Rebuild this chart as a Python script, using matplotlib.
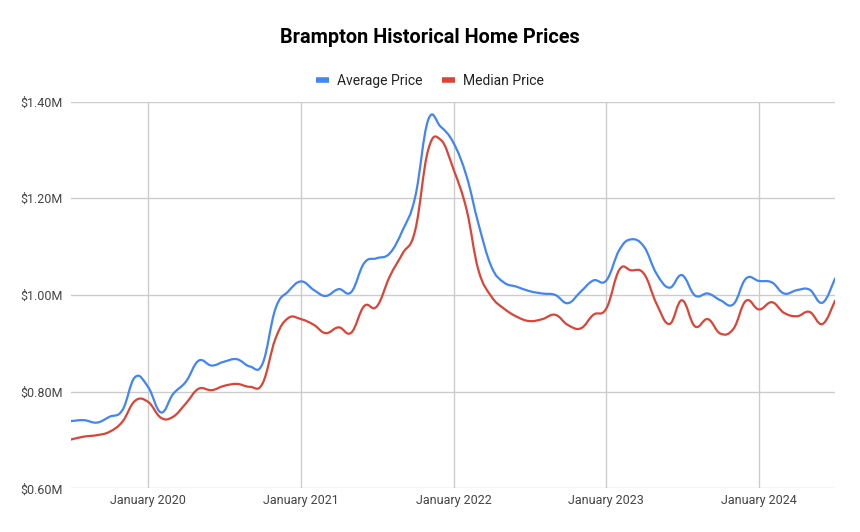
import datetime as dt
import matplotlib
matplotlib.use("Agg")
import matplotlib.pyplot as plt
import matplotlib.dates as mdates
from matplotlib.path import Path
from matplotlib.patches import PathPatch
from matplotlib.lines import Line2D
from matplotlib.ticker import FuncFormatter

plt.rcParams['font.family'] = ['Roboto', 'DejaVu Sans']

# monthly data, Jul 2019 .. Jul 2024 (millions of dollars)
months = [dt.date(2019 + (6 + k) // 12, (6 + k) % 12 + 1, 1) for k in range(61)]

average_price = [
    0.739, 0.741, 0.736, 0.748, 0.762, 0.830, 0.810, 0.757, 0.795, 0.821,
    0.864, 0.854, 0.862, 0.867, 0.852, 0.858, 0.972, 1.007, 1.028, 1.010,
    0.998, 1.012, 1.006, 1.066, 1.076, 1.086, 1.134, 1.203, 1.362, 1.348,
    1.314, 1.245, 1.148, 1.059, 1.026, 1.017, 1.008, 1.003, 1.000, 0.983,
    1.007, 1.030, 1.030, 1.093, 1.115, 1.100, 1.044, 1.015, 1.041, 0.999,
    1.003, 0.989, 0.981, 1.034, 1.029, 1.026, 1.003, 1.010, 1.011, 0.984,
    1.034,
]
median_price = [
    0.701, 0.707, 0.710, 0.717, 0.738, 0.781, 0.779, 0.746, 0.748, 0.776,
    0.806, 0.803, 0.812, 0.816, 0.810, 0.817, 0.910, 0.952, 0.950, 0.938,
    0.921, 0.933, 0.922, 0.977, 0.976, 1.038, 1.086, 1.134, 1.300, 1.321,
    1.259, 1.176, 1.052, 0.997, 0.972, 0.955, 0.946, 0.950, 0.959, 0.938,
    0.931, 0.959, 0.972, 1.052, 1.051, 1.044, 0.982, 0.940, 0.989, 0.935,
    0.950, 0.920, 0.930, 0.988, 0.970, 0.985, 0.963, 0.956, 0.965, 0.940,
    0.988,
]
series = [("Average Price", average_price, "#4285F4"),
          ("Median Price", median_price, "#DB4437")]
tick_years = [2020, 2021, 2022, 2023, 2024]


def smooth_path(xs, ys, t=0.2):
    # cubic bezier through the data points (like a "function" curve)
    n = len(xs)
    verts = [(xs[0], ys[0])]
    codes = [Path.MOVETO]
    for i in range(n - 1):
        a = max(i - 1, 0)
        b = min(i + 2, n - 1)
        c1 = (xs[i] + (xs[i + 1] - xs[a]) * t, ys[i] + (ys[i + 1] - ys[a]) * t)
        c2 = (xs[i + 1] - (xs[b] - xs[i]) * t, ys[i + 1] - (ys[b] - ys[i]) * t)
        verts += [c1, c2, (xs[i + 1], ys[i + 1])]
        codes += [Path.CURVE4] * 3
    return Path(verts, codes)


fig = plt.figure(figsize=(8.6, 5.32), dpi=100)
ax = fig.add_axes([0.0826, 0.0821, 0.8884, 0.7269])

x = mdates.date2num(months)
for label, vals, color in series:
    patch = PathPatch(smooth_path(x, vals), fill=False, edgecolor=color,
                      lw=1.6, capstyle='round', joinstyle='round', zorder=3)
    ax.add_patch(patch)

ax.set_xlim(mdates.date2num(dt.date(2019, 7, 1)), mdates.date2num(dt.date(2024, 7, 1)))
ax.set_ylim(0.6, 1.4)
ax.set_yticks([0.6, 0.8, 1.0, 1.2, 1.4])
ax.yaxis.set_major_formatter(FuncFormatter(lambda v, p: "${:.2f}M".format(v)))
ax.set_xticks(mdates.date2num([dt.date(y, 1, 1) for y in tick_years]))
ax.set_xticklabels(["January %d" % y for y in tick_years])
ax.grid(True, color="#cccccc", lw=1)
ax.set_axisbelow(True)
for s in ax.spines.values():
    s.set_visible(False)
ax.tick_params(length=0, labelsize=9, colors="#444444", pad=6)
ax.tick_params(axis='x', pad=4)

fig.suptitle("Brampton Historical Home Prices", x=0.5, y=0.947,
             fontsize=14.3, fontweight='bold', color="#000000")

handles = [Line2D([], [], color=c, lw=4, solid_capstyle='butt') for _, _, c in series]
fig.legend(handles, [l for l, _, _ in series], loc='center', bbox_to_anchor=(0.5, 0.848),
           ncol=2, frameon=False, fontsize=10, handlelength=0.9, handletextpad=0.6,
           columnspacing=1.4, labelcolor="#222222")

fig.savefig("out.png", dpi=100)
